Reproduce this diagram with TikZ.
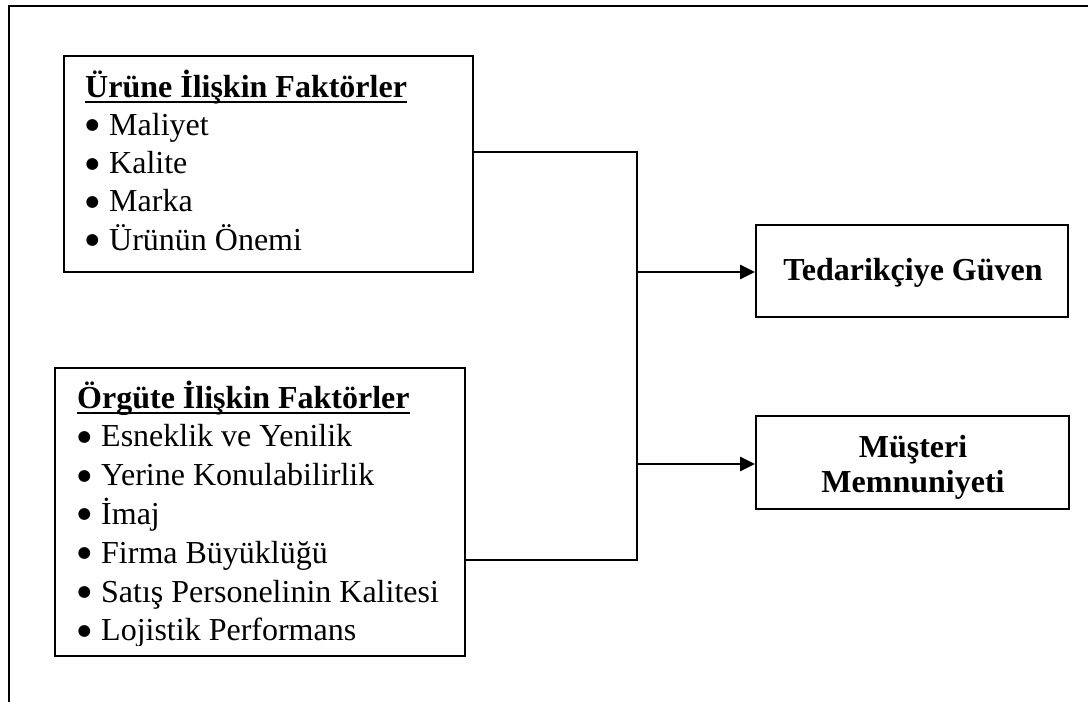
\documentclass[tikz,border=0pt]{standalone}
\usepackage{fontspec}
\setmainfont{Liberation Serif}
\newfontfamily\symfont{DejaVu Sans}
\usetikzlibrary{arrows.meta}
\newcommand{\bigbul}{\makebox[26pt][l]{\hspace{2.5pt}\raisebox{5.5pt}{\symfont\fontsize{15.5}{15.5}\selectfont ●}}}
\begin{document}
\begin{tikzpicture}[x=1pt,y=-1pt,
  box/.style={draw,line width=1.8pt,inner sep=0pt},
  conn/.style={line width=2.6pt},
  arr/.style={conn,-{Triangle[length=15pt,width=14pt]}},
  txt/.style={anchor=base west,inner sep=0pt,font=\fontsize{32}{38}\selectfont},
  head/.style={txt,font=\fontsize{32}{38}\selectfont\bfseries},
  ul/.style={line width=2.8pt},
  btitle/.style={anchor=base,inner sep=0pt,font=\fontsize{32}{36}\selectfont\bfseries}]
\useasboundingbox (0,0) rectangle (1088,702);
% outer frame (cut)
\draw[line width=1.8pt] (9,702) -- (9,6) -- (1088,6);
% boxes
\node[box,minimum width=409pt,minimum height=216pt] (b1) at (268.5,164) {};
\node[box,minimum width=410pt,minimum height=288pt] (b2) at (260,512) {};
\node[box,minimum width=312pt,minimum height=92pt] (t) at (912,271) {};
\node[box,minimum width=313pt,minimum height=93pt] (m) at (912.5,462.5) {};
\node[btitle] (tt) at (913,280) {Tedarikçiye Güven};
\node[btitle] (mt1) at (913,457) {Müşteri};
\node[btitle] (mt2) at (913,492) {Memnuniyeti};
% box 1 text
\node[head] (h1) at (85,97) {Ürüne İlişkin Faktörler};
\draw[ul] ([yshift=-5pt]h1.base west) -- ([yshift=-5pt]h1.base east);
\foreach \t [count=\i] in {Maliyet,Kalite,Marka,Ürünün Önemi}{
  \node[txt] (q\i) at (83,97+38.3*\i) {\bigbul\t};
}
% box 2 text
\begin{scope}
\clip (56,369) rectangle (464,645);
\node[head] (h2) at (77,408) {Örgüte İlişkin Faktörler};
\draw[ul] ([yshift=-5pt]h2.base west) -- ([yshift=-5pt]h2.base east);
\foreach \t [count=\i] in {Esneklik ve Yenilik,Yerine Konulabilirlik,İmaj,Firma Büyüklüğü,Satış Personelinin Kalitesi,Lojistik Performans}{
  \node[txt] (s\i) at (75,408+38.8*\i) {\bigbul\t};
}
\end{scope}
% connectors
\coordinate (j1) at (637,152);
\coordinate (j2) at (637,560);
\coordinate (ja) at (637,272);
\coordinate (jb) at (637,464);
\draw[conn] (b1.east |- j1) -- (j1) -- (j2) -- (b2.east |- j2);
\draw[arr] (ja) -- (t.west |- ja);
\draw[arr] (jb) -- (m.west |- jb);
\end{tikzpicture}
\end{document}
